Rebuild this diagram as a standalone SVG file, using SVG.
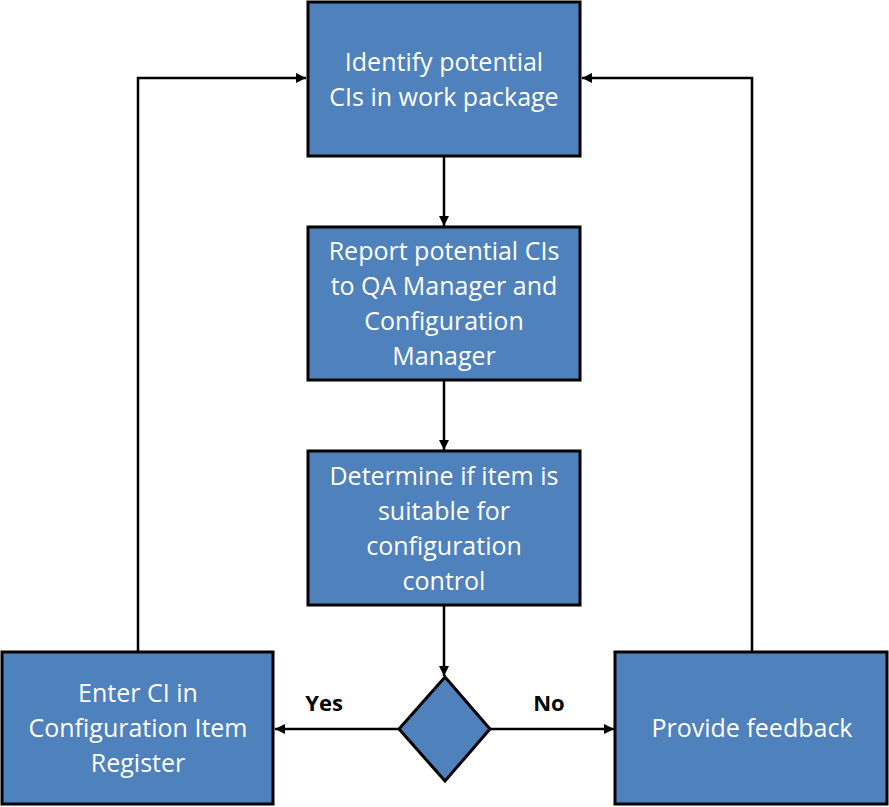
<svg xmlns="http://www.w3.org/2000/svg" width="889" height="807" viewBox="0 0 889 807">
<defs>
<marker id="ah" viewBox="0 0 10 10" refX="10" refY="5" markerWidth="4" markerHeight="4" orient="auto" markerUnits="strokeWidth">
<path d="M0,0 L10,5 L0,10 z" fill="#000"/>
</marker>
<style>
.box{fill:#4F81BD;stroke:#000;stroke-width:3}
.t{font-family:"Open Sans","Liberation Sans",Arial,sans-serif;font-size:25px;fill:#fff;text-anchor:middle}
.lbl{font-family:"Open Sans","Liberation Sans",Arial,sans-serif;font-size:22px;font-weight:bold;fill:#000;text-anchor:middle}
.c{fill:none;stroke:#000;stroke-width:2.5;marker-end:url(#ah)}
</style>
</defs>
<rect width="889" height="807" fill="#fff"/>
<g id="connectors">
<path class="c" d="M444,156 L444,226"/>
<path class="c" d="M444,380 L444,450"/>
<path class="c" d="M444,605 L444,676"/>
<path class="c" d="M399,729 L275,729"/>
<path class="c" d="M490,729 L614,729"/>
<path class="c" d="M138,652 L138,78 L306,78"/>
<path class="c" d="M752,652 L752,78 L582,78"/>
</g>
<g id="n1"><rect class="box" x="308" y="2" width="272" height="154"/>
<text class="t" x="444" y="71">Identify potential</text><text class="t" x="444" y="106">CIs in work package</text></g>
<g id="n2"><rect class="box" x="308" y="227" width="272" height="153"/>
<text class="t" x="444" y="260">Report potential CIs</text><text class="t" x="444" y="295">to QA Manager and</text><text class="t" x="444" y="330">Configuration</text><text class="t" x="444" y="365">Manager</text></g>
<g id="n3"><rect class="box" x="308" y="451" width="272" height="154"/>
<text class="t" x="444" y="485">Determine if item is</text><text class="t" x="444" y="520">suitable for</text><text class="t" x="444" y="555">configuration</text><text class="t" x="444" y="590">control</text></g>
<g id="d"><polygon class="box" points="445,677 490,729 445,781 399,729"/></g>
<g id="n4"><rect class="box" x="2" y="652" width="271" height="152"/>
<text class="t" x="138" y="702">Enter CI in</text><text class="t" x="138" y="737">Configuration Item</text><text class="t" x="138" y="772">Register</text></g>
<g id="n5"><rect class="box" x="615" y="652" width="272" height="152"/>
<text class="t" x="752" y="737">Provide feedback</text></g>
<g id="labels"><text class="lbl" x="324" y="711">Yes</text><text class="lbl" x="549" y="711">No</text></g>
</svg>
